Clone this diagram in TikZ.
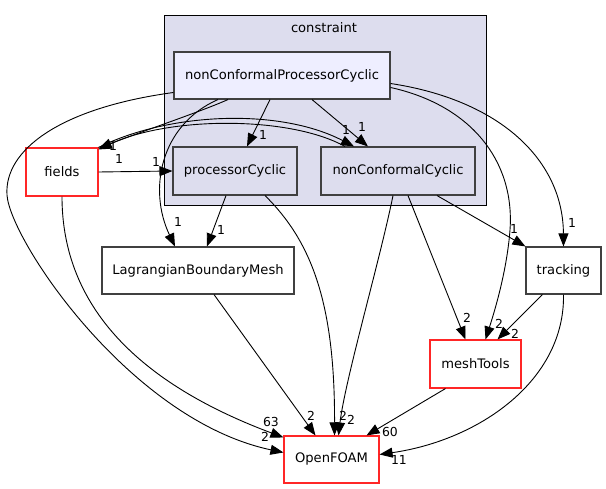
\documentclass[tikz,border=0pt]{standalone}
\usepackage{fontspec}
\setmainfont{DejaVu Sans}
\usetikzlibrary{arrows.meta}
\definecolor{clfill}{HTML}{DDDDEE}
\definecolor{topfill}{HTML}{EEEEFF}
\definecolor{edgegray}{HTML}{404040}
\tikzset{
  box/.style    = {draw=edgegray, rectangle, line width=1.1pt, inner sep=2pt,
                   font=\fontsize{13.1}{15}\selectfont, fill=white},
  redbox/.style = {box, draw=red!85},
  subbox/.style = {box, fill=clfill},
  ar/.style     = {-{Triangle[length=13pt, width=10pt]}, line width=0.9pt},
  lbl/.style    = {font=\fontsize{12.4}{14}\selectfont, inner sep=0pt},
}

\begin{document}
\begin{tikzpicture}[x=1pt, y=-1pt]
  \useasboundingbox (0,0) rectangle (606,489);
  % cluster
  \draw[line width=1pt, fill=clfill] (164,16) rectangle (486,206);
  \node[font=\fontsize{13.1}{15}\selectfont] (cl) at (324,28) {constraint};

  \node[box, fill=topfill, minimum width=216pt, minimum height=47pt] (top) at (282,75.5) {nonConformalProcessorCyclic};
  \node[subbox, minimum width=124pt, minimum height=48pt] (pc)  at (235,171) {processorCyclic};
  \node[subbox, minimum width=154pt, minimum height=48pt] (ncc) at (398,171) {nonConformalCyclic};
  \node[redbox, minimum width=72pt, minimum height=48pt]  (fields) at (62,172) {fields};
  \node[box, minimum width=192pt, minimum height=47pt]    (lbm) at (198,270.5) {LagrangianBoundaryMesh};
  \node[box, minimum width=75pt, minimum height=47pt]     (tr)  at (563.5,270.5) {tracking};
  \node[redbox, minimum width=91pt, minimum height=48pt]  (mt)  at (475.5,364) {meshTools};
  \node[redbox, minimum width=95pt, minimum height=47pt]  (of)  at (331.5,459.5) {OpenFOAM};

  % edges out of nonConformalProcessorCyclic
  \draw[ar] ([xshift=-54pt]top.south) .. controls (200,112) and (140,132) .. ([yshift=-1pt]fields.north east)
    node[lbl] at (119,159) {1};
  \draw[ar] ([xshift=-12pt]top.south) -- ([xshift=12pt]pc.north)
    node[lbl] at (263,135) {1};
  \draw[ar] ([xshift=30pt]top.south) -- ([xshift=-30pt]ncc.north)
    node[lbl] at (362,127) {1};
  \draw[ar] ([xshift=-64pt]top.south) .. controls (160,125) and (148,190) .. ([xshift=-23pt]lbm.north)
    node[lbl] at (178,222) {1};
  \draw[ar] ([yshift=-17pt]top.west) .. controls (60,108) and (4,150) .. (7,195)
    .. controls (10,240) and (130,420) .. ([yshift=7pt]of.west)
    node[lbl] at (265,437) {2};
  \draw[ar] ([yshift=-12pt]top.east) .. controls (470,105) and (515,160) .. (510,230)
    .. controls (507,270) and (495,310) .. ([xshift=10pt]mt.north)
    node[lbl] at (499,324) {2};
  \draw[ar] ([yshift=-8pt]top.east) .. controls (500,100) and (563,160) .. (tr.north)
    node[lbl] at (572,223) {1};

  % fields and nonConformalCyclic
  \draw[ar] (fields.north east) .. controls (170,112) and (280,108) .. ([xshift=-44pt]ncc.north)
    node[lbl] at (346,130) {1};
  \draw[ar] ([xshift=-53pt]ncc.north) .. controls (290,116) and (170,116) .. ([yshift=-2pt]fields.north east)
    node[lbl] at (113,146) {1};
  \draw[ar] (fields.east) -- (pc.west)
    node[lbl] at (156,162) {1};
  \draw[ar] (fields.south) .. controls (62,300) and (130,380) .. ([yshift=-2pt]of.north west)
    node[lbl] at (271,422) {63};

  % processorCyclic
  \draw[ar] ([xshift=-9pt]pc.south) -- ([xshift=9pt]lbm.north)
    node[lbl] at (221,230) {1};
  \draw[ar] ([xshift=30pt]pc.south) .. controls (310,240) and (335,300) .. ([xshift=3pt]of.north)
    node[lbl] at (343,416) {2};

  % nonConformalCyclic
  \draw[ar] ([xshift=-5pt]ncc.south) .. controls (380,260) and (345,380) .. ([xshift=7pt]of.north)
    node[lbl] at (351,420) {2};
  \draw[ar] ([xshift=10pt]ncc.south) -- ([xshift=-10pt]mt.north)
    node[lbl] at (467,318) {2};
  \draw[ar] ([xshift=39pt]ncc.south) -- (tr.north west)
    node[lbl] at (514,229) {1};

  % lower part
  \draw[ar] ([xshift=16pt]lbm.south) -- ([xshift=-16pt]of.north)
    node[lbl] at (311,416) {2};
  \draw[ar] ([xshift=-21pt]tr.south) -- ([xshift=22pt]mt.north)
    node[lbl] at (515,334) {2};
  \draw[ar] (tr.south) .. controls (565,380) and (480,440) .. ([yshift=5pt]of.east)
    node[lbl] at (399,460) {11};
  \draw[ar] ([xshift=-30pt]mt.south) -- ([xshift=35pt]of.north)
    node[lbl] at (390,432) {60};
\end{tikzpicture}
\end{document}
